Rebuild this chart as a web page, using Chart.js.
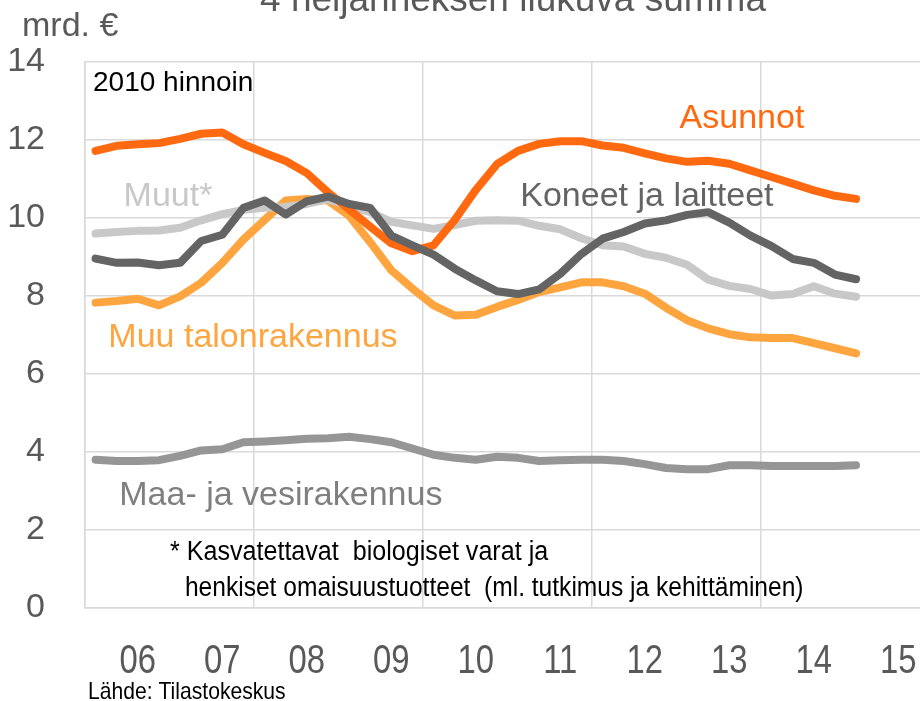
<!DOCTYPE html>
<html>
<head>
<meta charset="utf-8">
<script src="https://cdn.jsdelivr.net/npm/chart.js@4.4.1/dist/chart.umd.min.js"></script>
<style>
  html, body { margin: 0; padding: 0; overflow: hidden; background: #fff; }
  #wrap { position: absolute; left: 0; top: 0; width: 940px; height: 701px; }
</style>
</head>
<body>
<div id="wrap"><canvas id="chart" width="940" height="701"></canvas></div>
<script>
// quarters shown on the axis (data runs 2005Q3 - 2014Q3)
const quarters = [
  "2005Q3", "2005Q4",
  "2006Q1", "2006Q2", "2006Q3", "2006Q4",
  "2007Q1", "2007Q2", "2007Q3", "2007Q4",
  "2008Q1", "2008Q2", "2008Q3", "2008Q4",
  "2009Q1", "2009Q2", "2009Q3", "2009Q4",
  "2010Q1", "2010Q2", "2010Q3", "2010Q4",
  "2011Q1", "2011Q2", "2011Q3", "2011Q4",
  "2012Q1", "2012Q2", "2012Q3", "2012Q4",
  "2013Q1", "2013Q2", "2013Q3", "2013Q4",
  "2014Q1", "2014Q2", "2014Q3", "2014Q4",
  "2015Q1", "2015Q2"
];

// mrd. €, 2010 hinnoin
const asunnot = [11.72, 11.85, 11.89, 11.92, 12.03, 12.16, 12.19, 11.89, 11.67, 11.46,
  11.15, 10.66, 10.22, 9.78, 9.35, 9.15, 9.30, 9.95, 10.72, 11.38,
  11.72, 11.90, 11.97, 11.97, 11.86, 11.80, 11.66, 11.53, 11.44, 11.47,
  11.39, 11.22, 11.05, 10.88, 10.71, 10.57, 10.49];
const muuTalo = [7.83, 7.87, 7.93, 7.76, 7.99, 8.34, 8.85, 9.45, 9.95, 10.45,
  10.49, 10.45, 10.06, 9.38, 8.66, 8.19, 7.76, 7.50, 7.52, 7.72,
  7.90, 8.10, 8.22, 8.35, 8.35, 8.25, 8.06, 7.70, 7.38, 7.17,
  7.02, 6.94, 6.92, 6.92, 6.79, 6.66, 6.53];
const koneet = [8.96, 8.85, 8.86, 8.79, 8.85, 9.41, 9.57, 10.26, 10.45, 10.09,
  10.43, 10.55, 10.36, 10.26, 9.55, 9.30, 9.06, 8.70, 8.40, 8.12,
  8.05, 8.17, 8.57, 9.08, 9.47, 9.64, 9.86, 9.94, 10.08, 10.15,
  9.88, 9.55, 9.28, 8.95, 8.85, 8.55, 8.43];
const muut = [9.60, 9.64, 9.67, 9.68, 9.75, 9.94, 10.10, 10.21, 10.26, 10.28,
  10.36, 10.48, 10.30, 10.15, 9.90, 9.81, 9.72, 9.82, 9.93, 9.94,
  9.93, 9.80, 9.71, 9.48, 9.30, 9.27, 9.08, 8.98, 8.80, 8.42,
  8.26, 8.18, 8.01, 8.05, 8.25, 8.06, 7.98];
const maaVesi = [3.80, 3.77, 3.77, 3.79, 3.90, 4.04, 4.07, 4.25, 4.27, 4.30,
  4.34, 4.35, 4.39, 4.33, 4.25, 4.09, 3.93, 3.85, 3.80, 3.88,
  3.85, 3.77, 3.79, 3.80, 3.80, 3.77, 3.69, 3.59, 3.56, 3.56,
  3.66, 3.66, 3.64, 3.64, 3.64, 3.64, 3.66];

const FONT = '"Liberation Sans", Arial, sans-serif';
const GRID = '#d9d9d9';

// series names written inside the plot, anchored on the scales (index, value)
const notes = [
  { text: 'Asunnot', i: 30.6, v: 12.56, color: '#ff6a10', size: 34, align: 'center' },
  { text: 'Koneet ja laitteet', i: 26.1, v: 10.54, color: '#646464', size: 34, align: 'center' },
  { text: 'Muut*', i: 3.43, v: 10.54, color: '#c8c8c8', size: 34, align: 'center' },
  { text: 'Muu talonrakennus', i: 7.45, v: 6.92, color: '#ffa53f', size: 34, align: 'center' },
  { text: 'Maa- ja vesirakennus', i: 8.77, v: 2.87, color: '#7f7f7f', size: 34, align: 'center' },
  { text: '2010 hinnoin', i: -0.12, v: 13.46, color: '#000000', size: 28, align: 'left' },
  { text: '* Kasvatettavat  biologiset varat ja', i: 3.52, v: 1.41, color: '#000000', size: 27, align: 'left', sx: 0.93 },
  { text: 'henkiset omaisuustuotteet  (ml. tutkimus ja kehittäminen)', i: 4.23, v: 0.51, color: '#000000', size: 27, align: 'left', sx: 0.91 }
];

// text squeezed sideways, the original uses a narrow face
function squeezed(ctx, text, x, y, sx) {
  ctx.save();
  ctx.translate(x, y);
  ctx.scale(sx, 1);
  ctx.fillText(text, 0, 0);
  ctx.restore();
}

const textPlugin = {
  id: 'texts',
  afterDatasetsDraw(chart) {
    const { ctx, scales: { x, y } } = chart;
    ctx.save();
    ctx.textBaseline = 'middle';
    notes.forEach(n => {
      ctx.font = n.size + 'px ' + FONT;
      ctx.fillStyle = n.color;
      ctx.textAlign = n.align;
      squeezed(ctx, n.text, x.getPixelForValue(n.i), y.getPixelForValue(n.v), n.sx || 1);
    });
    ctx.restore();
  },
  afterDraw(chart) {
    const { ctx, scales: { x } } = chart;
    ctx.save();
    // x tick labels: year under the first quarter
    ctx.fillStyle = '#595959';
    ctx.font = '40px ' + FONT;
    ctx.textAlign = 'center';
    ctx.textBaseline = 'middle';
    x.ticks.forEach((t, i) => {
      if (quarters[i].endsWith('Q1')) {
        squeezed(ctx, quarters[i].slice(2, 4), x.getPixelForTick(i), x.top + 54, 0.82);
      }
    });
    ctx.textBaseline = 'alphabetic';
    ctx.font = '37px ' + FONT;
    ctx.fillText('4 neljänneksen liukuva summa', 513, 11);
    ctx.textAlign = 'left';
    ctx.font = '34px ' + FONT;
    ctx.fillText('mrd. €', 22, 36);
    ctx.fillStyle = '#000000';
    ctx.font = '24px ' + FONT;
    squeezed(ctx, 'Lähde: Tilastokeskus', 88, 699, 0.88);
    ctx.restore();
  }
};

function line(label, data, color) {
  return {
    label, data,
    borderColor: color,
    backgroundColor: color,
    borderWidth: 8,
    borderCapStyle: 'round',
    borderJoinStyle: 'round',
    pointRadius: 0,
    tension: 0,
    fill: false
  };
}

new Chart(document.getElementById('chart'), {
  type: 'line',
  data: {
    labels: quarters,
    datasets: [
      line('Koneet ja laitteet', koneet, '#646464'),
      line('Asunnot', asunnot, '#ff6a10'),
      line('Muut*', muut, '#c8c8c8'),
      line('Muu talonrakennus', muuTalo, '#ffa53f'),
      line('Maa- ja vesirakennus', maaVesi, '#969696')
    ]
  },
  options: {
    responsive: false,
    animation: false,
    devicePixelRatio: 1,
    layout: { padding: { top: 62, right: 10, left: 0, bottom: 0 } },
    plugins: { legend: { display: false }, tooltip: { enabled: false }, title: { display: false } },
    scales: {
      x: {
        offset: true,
        afterFit: s => { s.height = 93; },
        grid: {
          offset: true,
          drawTicks: false,
          color: c => (c.index % 8 === 0 ? GRID : 'rgba(0,0,0,0)'),
          lineWidth: 1.5
        },
        border: { color: GRID, width: 1.5 },
        ticks: { display: false, autoSkip: false }
      },
      y: {
        min: 0,
        max: 14,
        afterFit: s => { s.width = 85; },
        grid: { color: GRID, lineWidth: 1.5, drawTicks: false },
        border: { color: GRID, width: 1.5 },
        ticks: {
          stepSize: 2,
          padding: 40,
          color: '#595959',
          font: { family: FONT, size: 34 }
        }
      }
    }
  },
  plugins: [textPlugin]
});
</script>
</body>
</html>
